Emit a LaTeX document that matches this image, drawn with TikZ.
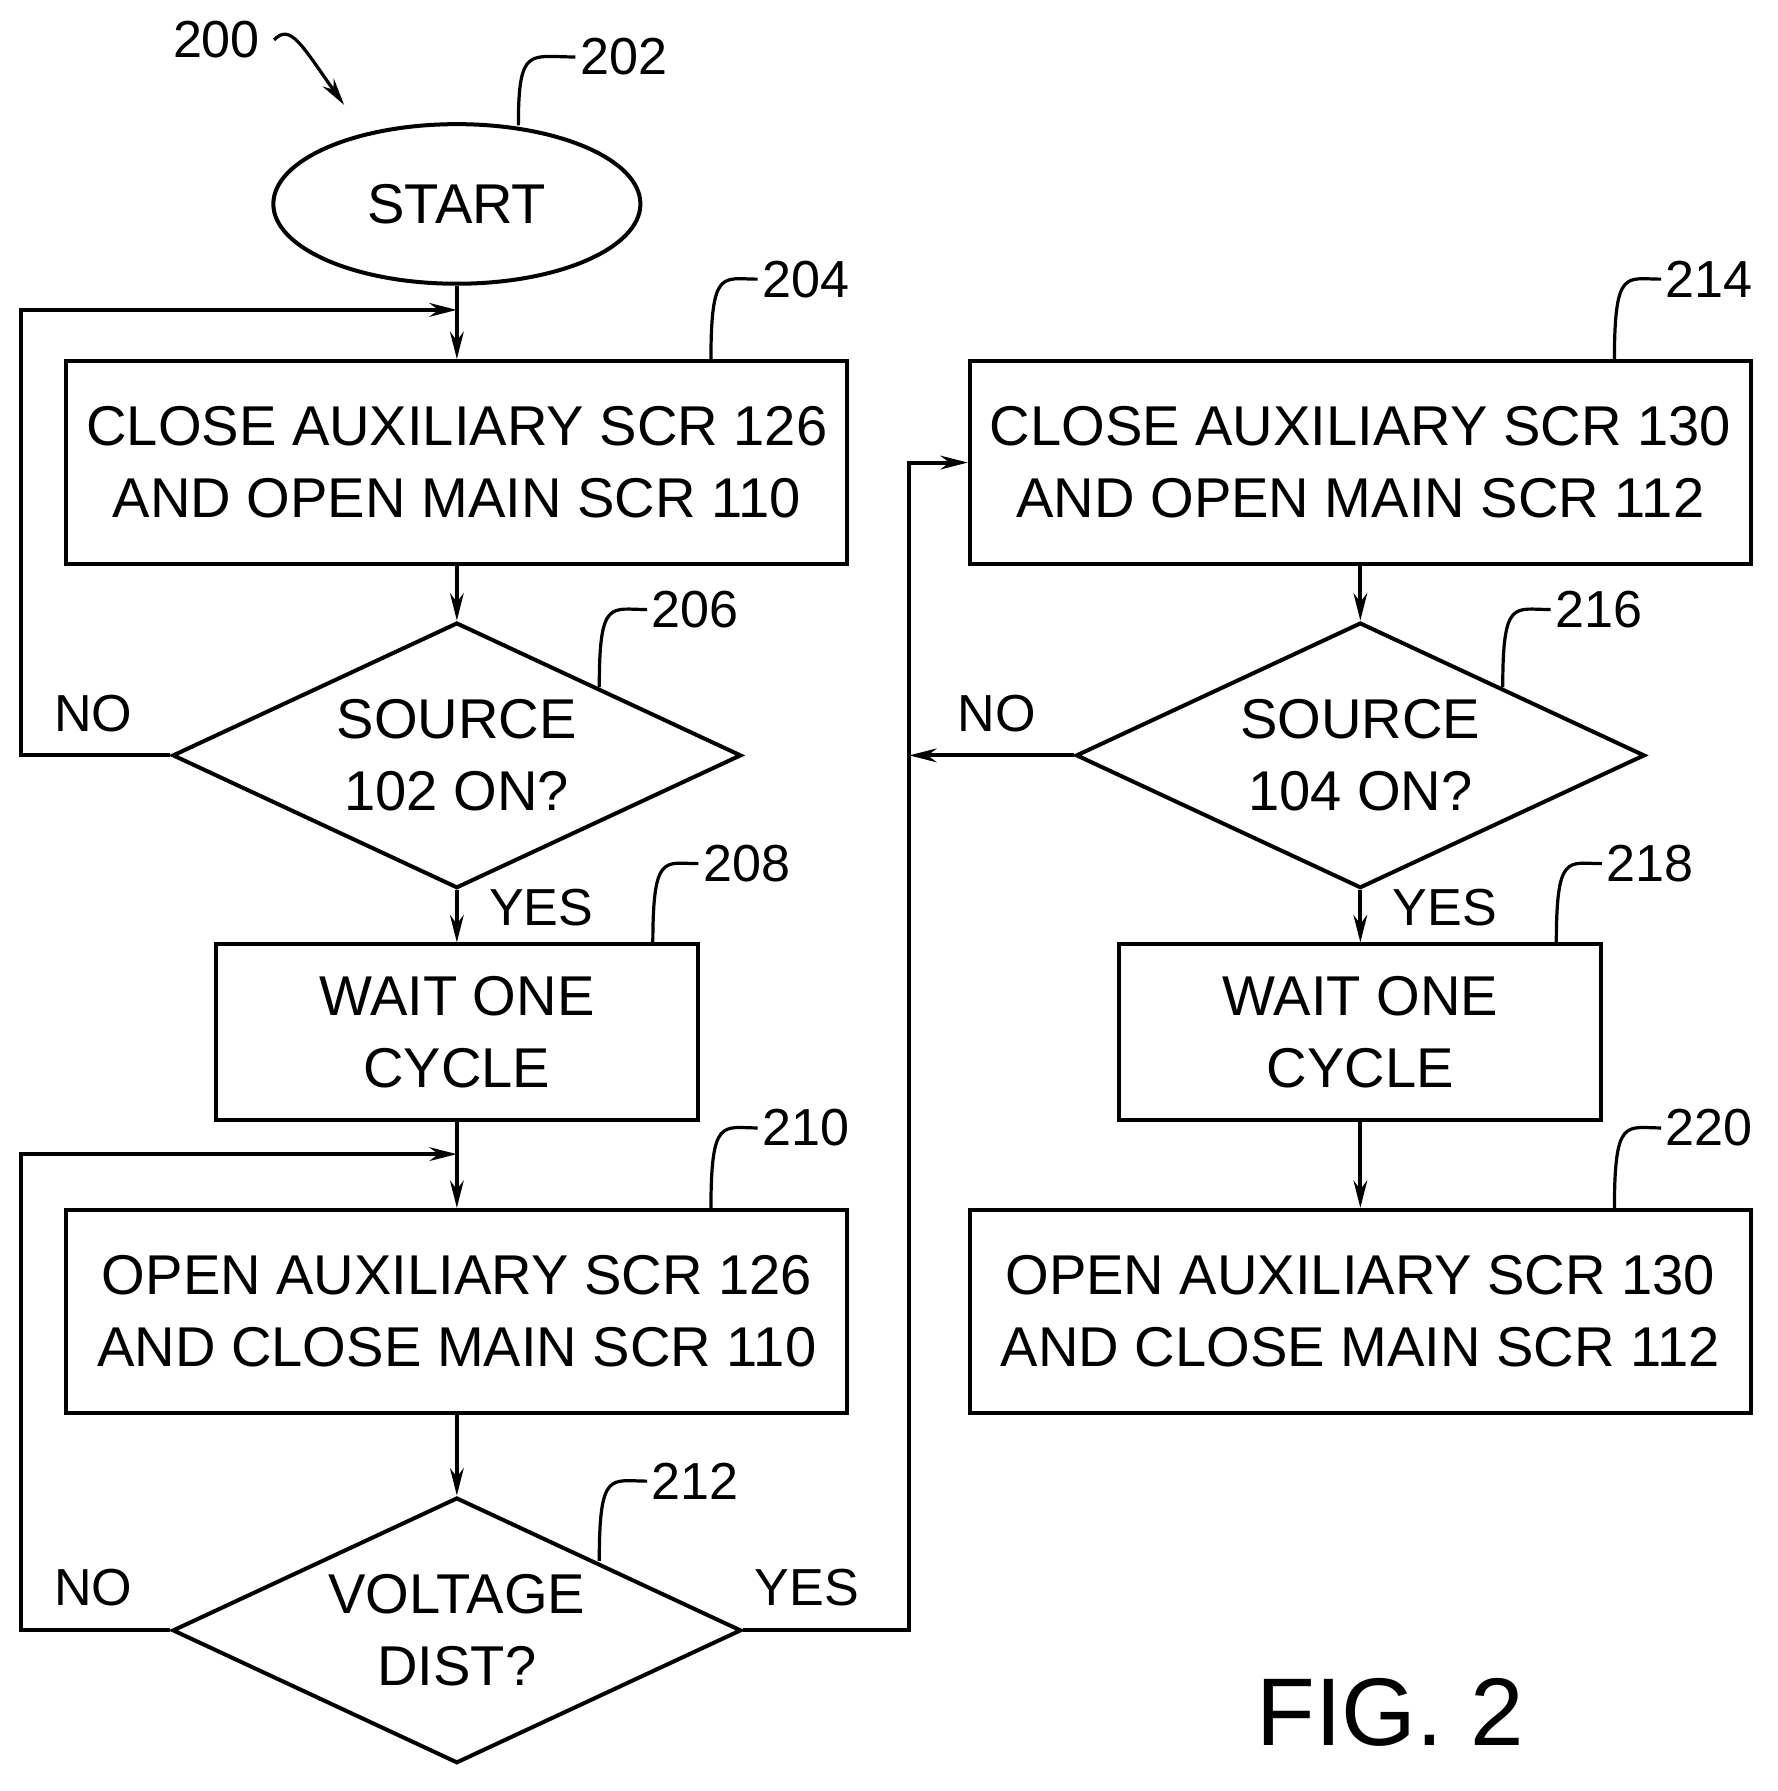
\documentclass[tikz,border=0pt]{standalone}
\usepackage{fontspec}
\setmainfont{Liberation Sans}
\usetikzlibrary{arrows.meta,positioning,shapes.geometric}

\begin{document}
\begin{tikzpicture}[
      x=0.01cm, y=-0.01cm,
      box/.style={
         rectangle,
         draw,
         line width=1pt,
         inner sep=0pt,
         align=center,
         font=\fontsize{14}{18}\selectfont},
      wide/.style={box, minimum width=6.85cm, minimum height=1.78cm},
      narrow/.style={box, minimum width=4.23cm, minimum height=1.54cm},
      decide/.style={
         diamond,
         draw,
         line width=1pt,
         inner sep=0pt,
         aspect=2.14,
         minimum width=4.99cm,
         minimum height=2.33cm,
         align=center,
         font=\fontsize{14}{18}\selectfont},
      myarrow/.style={-{Stealth[length=0.24cm,width=0.12cm]}, line width=1pt},
      myline/.style={line width=1pt},
      lbl/.style={font=\fontsize{13}{15}\selectfont},
      tag/.style={font=\fontsize{13}{15}\selectfont, anchor=west, inner sep=1pt}
      ]
      \useasboundingbox (0,0) rectangle (1560,1572);

      \node[ellipse, draw, line width=1pt, minimum width=3.22cm, minimum height=1.40cm,
            inner sep=0pt, font=\fontsize{14}{18}\selectfont] (start) at (401,179) {START};
      \node[wide] (b204) at (401,406) {CLOSE AUXILIARY SCR 126\\AND OPEN MAIN SCR 110};
      \node[decide] (d206) at (401,663) {SOURCE\\102 ON?};
      \node[narrow] (b208) at (401,906) {WAIT ONE\\CYCLE};
      \node[wide] (b210) at (401,1151) {OPEN AUXILIARY SCR 126\\AND CLOSE MAIN SCR 110};
      \node[decide] (d212) at (401,1431) {VOLTAGE\\DIST?};
      \node[wide] (b214) at (1194,406) {CLOSE AUXILIARY SCR 130\\AND OPEN MAIN SCR 112};
      \node[decide] (d216) at (1194,663) {SOURCE\\104 ON?};
      \node[narrow] (b218) at (1194,906) {WAIT ONE\\CYCLE};
      \node[wide] (b220) at (1194,1151) {OPEN AUXILIARY SCR 130\\AND CLOSE MAIN SCR 112};

      % corners of the loops
      \coordinate (j1) at (401,272);
      \coordinate (j2) at (401,1013);
      \coordinate (m1) at (798,663);

      \draw[myline] (start) -- (j1);
      \draw[myarrow] (j1) -- (b204);
      \draw[myarrow] (b204) -- (d206);
      \draw[myarrow] (d206) -- (b208);
      \draw[myline] (b208) -- (j2);
      \draw[myarrow] (j2) -- (b210);
      \draw[myarrow] (b210) -- (d212);
      \draw[myarrow] (b214) -- (d216);
      \draw[myarrow] (d216) -- (b218);
      \draw[myarrow] (b218) -- (b220);

      \draw[myarrow] (d206.west) -| (18,272) -- (j1);
      \draw[myarrow] (d212.west) -| (18,1013) -- (j2);
      \draw[myarrow] (d212.east) -| (798,406) -- (b214.west);
      \draw[myarrow] (d216.west) -- (m1);

      \node[lbl] (n1) at (82,626) {NO};
      \node[lbl] (y1) at (475,797) {YES};
      \node[lbl] (n2) at (82,1393) {NO};
      \node[lbl] (y2) at (708,1393) {YES};
      \node[lbl] (n3) at (875,626) {NO};
      \node[lbl] (y3) at (1268,797) {YES};

      % reference numerals
      \foreach \a/\b/\c/\d/\txt in {%
        455/110/505/50/202,
        624/317/665/245/204,
        526/603/568/535/206,
        573/829/613/758/208,
        624/1062/665/990/210,
        526/1370/568/1300/212,
        1417/317/1458/245/214,
        1319/603/1361/535/216,
        1366/829/1406/758/218,
        1417/1062/1458/990/220}
      {
        \node[tag] (r\txt) at (\c,\d) {\txt};
        \draw[line width=0.8pt] (\a,\b) .. controls (\a,\d-10) and (\a+10,\d) .. (r\txt.west);
      }

      \node[lbl] (r200) at (190,35) {200};
      \coordinate (p200) at (302,92);
      \draw[-{Stealth[length=0.24cm,width=0.12cm]}, line width=0.8pt]
        (r200.east) .. controls (255,20) and (265,40) .. (p200);

      \node[font=\fontsize{24}{28}\selectfont] (fig) at (1220,1503) {FIG. 2};
\end{tikzpicture}
\end{document}
